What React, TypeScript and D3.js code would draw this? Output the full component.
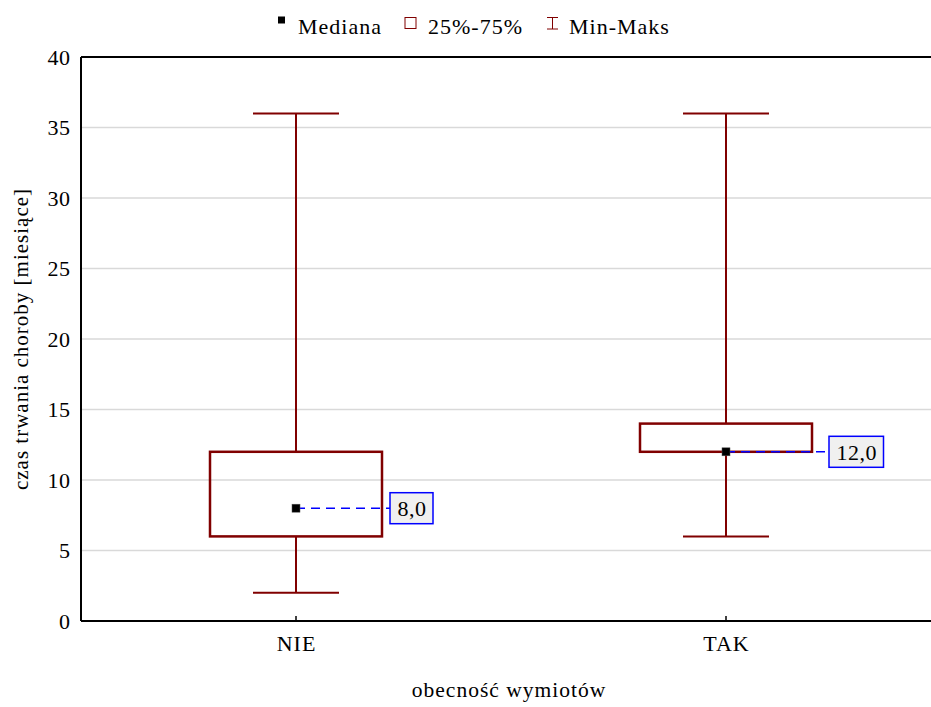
import React, { useEffect, useRef } from "react";
import * as d3 from "d3";

// box plot data (miesiące)
const categories = ["NIE", "TAK"];
const minValues = [2, 6];
const q1Values = [6, 12];
const medianValues = [8, 12];
const q3Values = [12, 14];
const maxValues = [36, 36];
const medianLabels = ["8,0", "12,0"];
const yTicks = [0, 5, 10, 15, 20, 25, 30, 35, 40];

const W = 931, H = 707;
const FONT = "Liberation Serif, Tinos, Times New Roman, DejaVu Serif, serif";
const BOX_COLOR = "#800000";

export default function App() {
  const ref = useRef<SVGSVGElement>(null);

  useEffect(() => {
    const svg = d3.select(ref.current);
    svg.selectAll("*").remove();

    const left = 81, top = 57, bottom = 621;
    const y = d3.scaleLinear().domain([0, 40]).range([bottom, top]);
    const x = d3.scalePoint().domain(categories).range([left, 941]).padding(0.5);
    const step = x.step();
    const boxW = step * 0.4;
    const capW = step * 0.2;

    // gridlines
    svg.append("g")
      .selectAll("line")
      .data(yTicks.filter(d => d > 0 && d < 40))
      .enter().append("line")
      .attr("x1", left).attr("x2", W)
      .attr("y1", d => y(d)).attr("y2", d => y(d))
      .attr("stroke", "#d9d9d9").attr("stroke-width", 1.5);

    // frame
    svg.append("line").attr("x1", left).attr("x2", W).attr("y1", top).attr("y2", top)
      .attr("stroke", "#000").attr("stroke-width", 2);
    svg.append("line").attr("x1", left).attr("x2", W).attr("y1", bottom).attr("y2", bottom)
      .attr("stroke", "#000").attr("stroke-width", 2);
    svg.append("line").attr("x1", left).attr("x2", left).attr("y1", top).attr("y2", bottom)
      .attr("stroke", "#000").attr("stroke-width", 2);

    // y tick labels
    svg.append("g")
      .selectAll("text")
      .data(yTicks)
      .enter().append("text")
      .attr("x", 70.5).attr("y", d => y(d)).attr("dy", "0.35em")
      .attr("text-anchor", "end")
      .attr("font-family", FONT).attr("font-size", 22).attr("letter-spacing", 0.5)
      .text(d => d);

    // x ticks + labels
    const xt = svg.append("g").selectAll("g").data(categories).enter().append("g");
    xt.append("line")
      .attr("x1", d => x(d)!).attr("x2", d => x(d)!)
      .attr("y1", bottom).attr("y2", bottom - 5)
      .attr("stroke", "#000").attr("stroke-width", 1.5);
    xt.append("text")
      .attr("x", d => x(d)! + 0.5).attr("y", 651)
      .attr("text-anchor", "middle")
      .attr("font-family", FONT).attr("font-size", 22).attr("letter-spacing", 1)
      .text(d => d);

    // axis titles
    svg.append("text")
      .attr("x", (left + W) / 2 + 3).attr("y", 697)
      .attr("text-anchor", "middle")
      .attr("font-family", FONT).attr("font-size", 21.5).attr("letter-spacing", 1)
      .text("obecność wymiotów");
    svg.append("text")
      .attr("transform", `translate(28,${(top + bottom) / 2}) rotate(-90)`)
      .attr("text-anchor", "middle")
      .attr("font-family", FONT).attr("font-size", 21).attr("letter-spacing", 1)
      .text("czas trwania choroby [miesiące]");

    // boxes
    const rows = categories.map((c, i) => ({
      c, min: minValues[i], q1: q1Values[i], med: medianValues[i],
      q3: q3Values[i], max: maxValues[i], label: medianLabels[i]
    }));
    const g = svg.append("g").selectAll("g").data(rows).enter().append("g");
    g.append("line")
      .attr("x1", d => x(d.c)!).attr("x2", d => x(d.c)!)
      .attr("y1", d => y(d.max)).attr("y2", d => y(d.q3))
      .attr("stroke", BOX_COLOR).attr("stroke-width", 2);
    g.append("line")
      .attr("x1", d => x(d.c)!).attr("x2", d => x(d.c)!)
      .attr("y1", d => y(d.q1)).attr("y2", d => y(d.min))
      .attr("stroke", BOX_COLOR).attr("stroke-width", 2);
    g.append("line")
      .attr("x1", d => x(d.c)! - capW / 2).attr("x2", d => x(d.c)! + capW / 2)
      .attr("y1", d => y(d.max)).attr("y2", d => y(d.max))
      .attr("stroke", BOX_COLOR).attr("stroke-width", 2);
    g.append("line")
      .attr("x1", d => x(d.c)! - capW / 2).attr("x2", d => x(d.c)! + capW / 2)
      .attr("y1", d => y(d.min)).attr("y2", d => y(d.min))
      .attr("stroke", BOX_COLOR).attr("stroke-width", 2);
    g.append("rect")
      .attr("x", d => x(d.c)! - boxW / 2).attr("width", boxW)
      .attr("y", d => y(d.q3)).attr("height", d => y(d.q1) - y(d.q3))
      .attr("fill", "none").attr("stroke", BOX_COLOR).attr("stroke-width", 2.5);

    // median labels
    const labelLeft = [390, 829];
    g.each(function (d, i) {
      const gg = d3.select(this);
      const cx = x(d.c)!, cy = y(d.med);
      const lx = labelLeft[i];
      gg.append("line")
        .attr("x1", cx).attr("x2", lx).attr("y1", cy).attr("y2", cy)
        .attr("stroke", "#0000ff").attr("stroke-width", 1.5)
        .attr("stroke-dasharray", "9,6");
      const t = gg.append("text")
        .attr("y", cy).attr("dy", "0.35em")
        .attr("font-family", FONT).attr("font-size", 22).attr("letter-spacing", 0.5)
        .text(d.label);
      const tw = (t.node() as SVGTextElement).getComputedTextLength();
      gg.insert("rect", "text")
        .attr("x", lx).attr("y", cy - 15.5)
        .attr("width", tw + 14).attr("height", 31)
        .attr("fill", "#f0f0f0").attr("stroke", "#0000ff").attr("stroke-width", 1.5);
      t.attr("x", lx + 7.5);
      gg.append("rect")
        .attr("x", cx - 4).attr("y", cy - 4).attr("width", 8).attr("height", 8)
        .attr("fill", "#000").attr("stroke", "#555").attr("stroke-width", 0.5);
    });

    // legend
    const lg = svg.append("g").attr("font-family", FONT).attr("font-size", 22).attr("letter-spacing", 1);
    lg.append("rect").attr("x", 278).attr("y", 16.5).attr("width", 7).attr("height", 7).attr("fill", "#000");
    lg.append("text").attr("x", 298).attr("y", 34).text("Mediana");
    lg.append("rect").attr("x", 405).attr("y", 17.5).attr("width", 11).attr("height", 11)
      .attr("fill", "none").attr("stroke", BOX_COLOR).attr("stroke-width", 1);
    lg.append("text").attr("x", 428).attr("y", 34).text("25%-75%");
    lg.append("path").attr("d", "M547,17.5H558M552.5,17.5V29M547,29H558")
      .attr("fill", "none").attr("stroke", BOX_COLOR).attr("stroke-width", 1);
    lg.append("text").attr("x", 569).attr("y", 34).text("Min-Maks");
  }, []);

  return (
    <svg ref={ref} width={W} height={H}
      style={{ position: "absolute", left: 0, top: 0, background: "#fff" }} />
  );
}
